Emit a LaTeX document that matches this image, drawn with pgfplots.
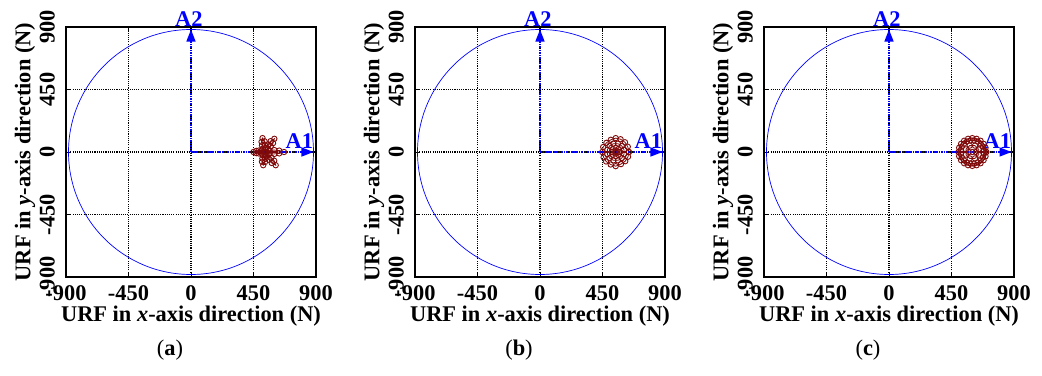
\documentclass[border=0pt]{standalone}
\usepackage{fontspec}
\setmainfont{Liberation Serif}
\usepackage{pgfplots}
\pgfplotsset{compat=1.18}
\usetikzlibrary{arrows.meta}

\definecolor{traj}{RGB}{128,10,10}
\definecolor{axblue}{RGB}{0,0,255}

\newcommand{\lblfont}{\fontsize{22.5}{26}\bfseries\selectfont}

\tikzset{
  refcircle/.style={axblue, line width=0.7pt},
  tag/.style={text=axblue, font=\fontsize{22.5}{26}\bfseries\selectfont},
}

\pgfplotsset{
  urf/.style={
    scale only axis, width=250bp, height=250bp,
    xmin=-900, xmax=900, ymin=-900, ymax=900,
    xtick={-900,-450,0,450,900}, ytick={-900,-450,0,450,900},
    grid=major,
    major grid style={black, line width=1.3pt, dash pattern=on 1.1pt off 1.1pt},
    major tick length=4bp,
    tick style={black, line width=0.8pt},
    axis line style={black, line width=1.2pt},
    /pgf/number format/assume math mode=true,
    ticklabel style={font=\lblfont},
    xticklabel style={inner sep=1pt},
    xticklabel shift=7bp,
    yticklabel style={rotate=90, anchor=south, inner sep=1pt},
    yticklabel shift=10bp,
    label style={font=\lblfont},
    xlabel={URF in \textit{x}-axis direction (N)},
    ylabel={URF in \textit{y}-axis direction (N)},
    xlabel style={at={(axis description cs:0.5,-0.156)}, anchor=center},
    ylabel style={at={(axis description cs:-0.164,0.5)}, anchor=center},
    clip=false,
  },
  dirarrow/.style={axblue, line width=1.3pt,
    dash pattern=on 2pt off 1.2pt on 0.8pt off 1.2pt,
    -{Triangle[length=12bp,width=9bp]}},
  trajline/.style={traj, line width=0.8pt, mark=o, mark size=2.7pt,
    mark options={solid, fill=white, line width=0.9pt}},
}

\begin{document}
\begin{tikzpicture}
\path[use as bounding box] (-66bp,-99bp) rectangle (976bp,277bp);

% ---------------- (a) ----------------
\begin{axis}[urf, at={(0bp,0bp)}, anchor=south west]
  \draw[refcircle] (axis cs:0,0) circle [radius=882];
  \addplot[trajline] coordinates {
    (530,0)
    (565,12) (600,14) (635,10) (670,0) (635,-10) (600,-14) (565,-12) (530,0)
    (538,31) (556,55) (573,78) (600,95) (591,64) (574,41) (556,17) (530,0)
    (515,23) (511,48) (508,73) (515,100) (530,77) (533,52) (537,27) (530,0)
    (510,10) (490,11) (470,8) (450,0) (470,-8) (490,-11) (510,-10) (530,0)
    (538,-25) (536,-49) (533,-72) (520,-95) (511,-70) (514,-47) (516,-23) (530,0)
    (559,-16) (579,-40) (599,-63) (610,-95) (581,-79) (561,-56) (541,-32) (530,0)
  };
  \addplot[dirarrow] coordinates {(0,0) (882,0)};
  \addplot[dirarrow] coordinates {(0,0) (0,882)};
  \node[tag] at (axis cs:780,75) {A1};
  \node[tag] at (axis cs:-15,955) {A2};
\end{axis}

% ---------------- (b) ----------------
\begin{axis}[urf, at={(349bp,0bp)}, anchor=south west]
  \draw[refcircle] (axis cs:0,0) circle [radius=882];
  \addplot[trajline] coordinates {
    (640,0) (632,38) (612,70) (580,92) (545,100) (510,88) (478,66) (455,36)
    (448,0) (458,-38) (476,-68) (509,-90) (545,-102) (583,-87) (614,-66) (634,-34) (640,0)
  };
  \addplot[trajline] coordinates {
    (605,16) (589,44) (561,60) (529,60) (501,44) (485,16)
    (485,-16) (501,-44) (529,-60) (561,-60) (589,-44) (605,-16) (605,16)
  };
  \addplot[trajline] coordinates {
    (575,0) (566,21) (545,30) (524,21) (515,0) (524,-21) (545,-30) (566,-21) (575,0) (545,0)
  };
  \addplot[dirarrow] coordinates {(0,0) (882,0)};
  \addplot[dirarrow] coordinates {(0,0) (0,882)};
  \node[tag] at (axis cs:780,75) {A1};
  \node[tag] at (axis cs:-15,955) {A2};
\end{axis}

% ---------------- (c) ----------------
\begin{axis}[urf, at={(698bp,0bp)}, anchor=south west]
  \draw[refcircle] (axis cs:0,0) circle [radius=882];
  \addplot[trajline] coordinates {
    (700,0) (695,31) (681,59) (659,81) (631,95) (600,100) (569,95) (541,81)
    (519,59) (505,31) (500,0) (505,-31) (519,-59) (541,-81) (569,-95) (600,-100)
    (631,-95) (659,-81) (681,-59) (695,-31) (700,0)
  };
  \addplot[trajline] coordinates {
    (684,13) (676,39) (660,60) (639,76) (613,84) (587,84) (561,76) (540,60)
    (524,39) (516,13) (516,-13) (524,-39) (540,-60) (561,-76) (587,-84) (613,-84)
    (639,-76) (660,-60) (676,-39) (684,-13) (684,13)
  };
  \addplot[trajline] coordinates {
    (646,19) (619,46) (581,46) (554,19) (554,-19) (581,-46) (619,-46) (646,-19) (646,19)
  };
  \addplot[trajline, only marks] coordinates {(575,0) (600,0) (625,0)};
  \addplot[dirarrow] coordinates {(0,0) (882,0)};
  \addplot[dirarrow] coordinates {(0,0) (0,882)};
  \node[tag] at (axis cs:780,75) {A1};
  \node[tag] at (axis cs:-15,955) {A2};
\end{axis}

% panel captions
\node[font=\fontsize{22.5}{26}\selectfont] at (104bp,-73bp) {(\textbf{a})};
\node[font=\fontsize{22.5}{26}\selectfont] at (453bp,-73bp) {(\textbf{b})};
\node[font=\fontsize{22.5}{26}\selectfont] at (802bp,-73bp) {(\textbf{c})};
\end{tikzpicture}
\end{document}
